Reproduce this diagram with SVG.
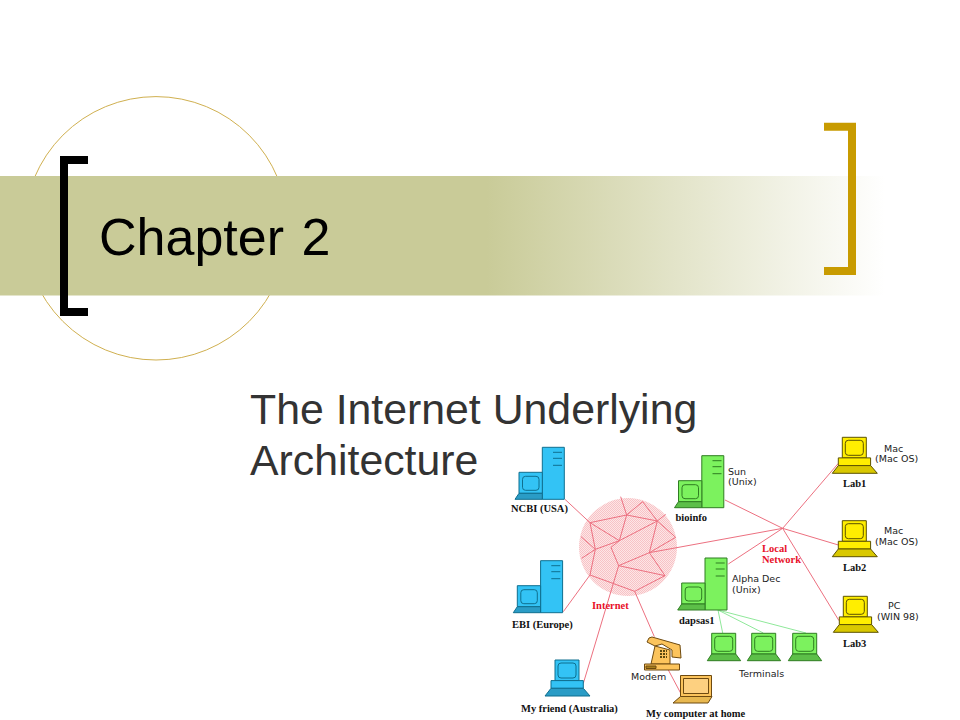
<svg xmlns="http://www.w3.org/2000/svg" width="960" height="720" viewBox="0 0 960 720">
<style>
.lbl{font-family:"DejaVu Sans","Liberation Sans",sans-serif;font-size:9.5px;fill:#222}
.nm{font-family:"Liberation Serif",serif;font-size:10.500px;font-weight:bold;fill:#111}
.rd{font-family:"Liberation Serif",serif;font-size:10.500px;font-weight:bold;fill:#e8102a}
.ttl{font-family:"Liberation Sans",Arial,sans-serif}
.s{stroke-width:1;stroke-linejoin:round}
.blue{fill:#33c3f5;color:#2a9cc6;stroke:#0f6f8f}
.green{fill:#7cf25e;color:#5cbf48;stroke:#2f7d22}
.yellow{fill:#ffee00;color:#d9c800;stroke:#5c5200}
.red line,.red polyline{stroke:#ec6f80;stroke-width:3;fill:none}
.grn line{stroke:#8fe89a;stroke-width:1;fill:none}
</style>
<defs>
<linearGradient id="band" x1="0" x2="1" y1="0" y2="0">
<stop offset="0" stop-color="#c9cb98"/><stop offset="0.55" stop-color="#c9cb98"/><stop offset="1" stop-color="#ffffff"/>
</linearGradient>
<pattern id="dot" width="2" height="2" patternUnits="userSpaceOnUse">
<rect width="2" height="2" fill="#fde6e6"/><rect width="1" height="1" fill="#f7c2c6"/><rect x="1" y="1" width="1" height="1" fill="#f7c2c6"/>
</pattern>
<g id="server">
<rect x="27.300" y="-52" width="22" height="52" class="s"/>
<path d="M38-47H47M38-41H47M38-34H47" fill="none"/>
<rect x="4" y="-27" width="23.300" height="21" class="s"/>
<rect x="7.500" y="-23" width="16.500" height="14" rx="3" class="s"/>
<path d="M4-6H27.300V0H0Z" fill="currentColor" class="s"/>
</g>
<g id="pc">
<rect x="10" y="-36" width="24" height="20.600" class="s"/>
<rect x="13" y="-33" width="18" height="15" rx="3" class="s"/>
<rect x="6" y="-15.400" width="32.300" height="7.700" class="s"/>
<path d="M6-7.700H38.300L45 0H0Z" fill="currentColor" class="s"/>
</g>
<g id="term">
<rect x="4.400" y="-27.400" width="24" height="20.700" class="s"/>
<rect x="7.400" y="-24.400" width="18" height="15" rx="3" class="s"/>
<path d="M4.400-6.700H28.400L33.400 0H0Z" fill="currentColor" class="s"/>
</g>
</defs>
<rect width="960" height="720" fill="#fff"/>
<g id="title-decor">
<circle cx="156" cy="228.300" r="131.700" fill="none" stroke="#d0b050" stroke-width="1"/>
<rect x="0" y="176" width="885" height="119.500" fill="url(#band)"/>
<path d="M88 160H64V312H88" fill="none" stroke="#000" stroke-width="8"/>
<path d="M824 126.700H852V271H824" fill="none" stroke="#c89b00" stroke-width="8"/>
</g>
<text class="ttl" x="99" y="255" font-size="52" word-spacing="3" fill="#000">Chapter 2</text>
<text class="ttl" x="250" y="424" font-size="42.800" fill="#333">The Internet Underlying</text>
<text class="ttl" x="250" y="475" font-size="42.800" fill="#333">Architecture</text>
<g id="internet"><circle cx="628" cy="547" r="49" fill="url(#dot)"/></g>
<g id="connectors">
<g class="red" transform="translate(500 430) scale(.33333)">
<line x1="195" y1="208" x2="270" y2="278"/>
<polyline points="270,278 380,255 472,273"/>
<line x1="270" y1="278" x2="358" y2="332"/>
<line x1="270" y1="278" x2="286" y2="358"/>
<line x1="380" y1="255" x2="362" y2="200"/>
<polyline points="380,255 428,215 472,273"/>
<line x1="380" y1="255" x2="358" y2="332"/>
<line x1="472" y1="273" x2="358" y2="332"/>
<line x1="472" y1="273" x2="497" y2="253"/>
<polyline points="472,273 527,322 448,368"/>
<line x1="472" y1="273" x2="448" y2="368"/>
<line x1="358" y1="332" x2="286" y2="358"/>
<polyline points="358,332 333,352 356,407"/>
<line x1="286" y1="358" x2="243" y2="320"/>
<line x1="286" y1="358" x2="245" y2="385"/>
<line x1="286" y1="358" x2="270" y2="435"/>
<line x1="448" y1="368" x2="356" y2="407"/>
<line x1="448" y1="368" x2="495" y2="437"/>
<line x1="356" y1="407" x2="495" y2="437"/>
<polyline points="495,437 404,484 270,435"/>
<line x1="190" y1="545" x2="270" y2="435"/>
<line x1="250" y1="760" x2="356" y2="407"/>
<line x1="404" y1="484" x2="463" y2="620"/>
<line x1="505" y1="720" x2="545" y2="795"/>
<line x1="448" y1="368" x2="848" y2="295"/>
<polyline points="675,210 848,295 1015,345"/>
<line x1="685" y1="402" x2="848" y2="295"/>
<line x1="848" y1="295" x2="1015" y2="100"/>
<line x1="848" y1="295" x2="1017" y2="572"/>
</g>
<g class="grn">
<line x1="718" y1="610" x2="722.700" y2="633"/>
<line x1="718" y1="610" x2="763.300" y2="633"/>
<line x1="718" y1="610" x2="806" y2="633"/>
</g>
</g>
<g id="ncbi" class="blue"><use href="#server" x="515" y="499.300"/></g>
<text class="nm" x="511" y="512">NCBI (USA)</text>
<g id="ebi" class="blue"><use href="#server" x="513.300" y="612.700"/></g>
<text class="nm" x="512" y="628">EBI (Europe)</text>
<g id="bioinfo" class="green"><use href="#server" x="674.500" y="507.700"/></g>
<text class="nm" x="675.500" y="521">bioinfo</text>
<text class="lbl" x="728" y="475">Sun</text>
<text class="lbl" x="728" y="485">(Unix)</text>
<g id="dapsas1" class="green"><use href="#server" x="677.700" y="610"/></g>
<text class="nm" x="679" y="624">dapsas1</text>
<text class="lbl" x="732" y="582">Alpha Dec</text>
<text class="lbl" x="732" y="593">(Unix)</text>
<g id="friend" class="blue"><use href="#pc" x="545" y="696"/></g>
<text class="nm" x="521" y="712">My friend (Australia)</text>
<g id="lab1" class="yellow"><use href="#pc" x="832.300" y="473.300"/></g>
<text class="nm" x="843" y="487">Lab1</text>
<text class="lbl" x="884" y="452">Mac</text>
<text class="lbl" x="875" y="462">(Mac OS)</text>
<g id="lab2" class="yellow"><use href="#pc" x="832.300" y="556.700"/></g>
<text class="nm" x="843" y="571">Lab2</text>
<text class="lbl" x="884" y="534">Mac</text>
<text class="lbl" x="875" y="545">(Mac OS)</text>
<g id="lab3" class="yellow"><use href="#pc" x="833.300" y="632.300"/></g>
<text class="nm" x="843" y="647">Lab3</text>
<text class="lbl" x="888" y="609">PC</text>
<text class="lbl" x="877" y="620">(WIN 98)</text>
<g id="t1" class="green"><use href="#term" x="707.300" y="660.700"/></g>
<g id="t2" class="green"><use href="#term" x="747.300" y="660.700"/></g>
<g id="t3" class="green"><use href="#term" x="788.300" y="660.700"/></g>
<text class="lbl" x="739" y="677">Terminals</text>
<g id="modem" fill="#fcc45c" stroke="#6e4a10" class="s">
<path d="M649 638L652 637L680 645L681 658L672 657V650L662 644L655 646L647 642Z"/>
<path d="M655 646L670 650V664H651Z"/>
<rect x="644.500" y="664" width="35" height="6"/>
<rect x="646" y="666" width="10" height="2.500" fill="#a8801c"/>
<path d="M660 651h7M660 654h7M660 657h7" stroke="#5c4a10" stroke-width="2" stroke-dasharray="2 1" fill="none"/>
</g>
<text class="lbl" x="631" y="680">Modem</text>
<g id="laptop" fill="#fcc45c" stroke="#6e4a10" class="s">
<rect x="680.500" y="675.500" width="31" height="21"/>
<rect x="683.500" y="678.500" width="25" height="15" fill="#fdd080"/>
<path d="M680.500 696.500H712L708 703H673Z" fill="#e8b850"/>
</g>
<text class="nm" x="646" y="717">My computer at home</text>
<text class="rd" x="592" y="609">Internet</text>
<text class="rd" x="762" y="552">Local</text>
<text class="rd" x="762" y="563">Network</text>
</svg>
